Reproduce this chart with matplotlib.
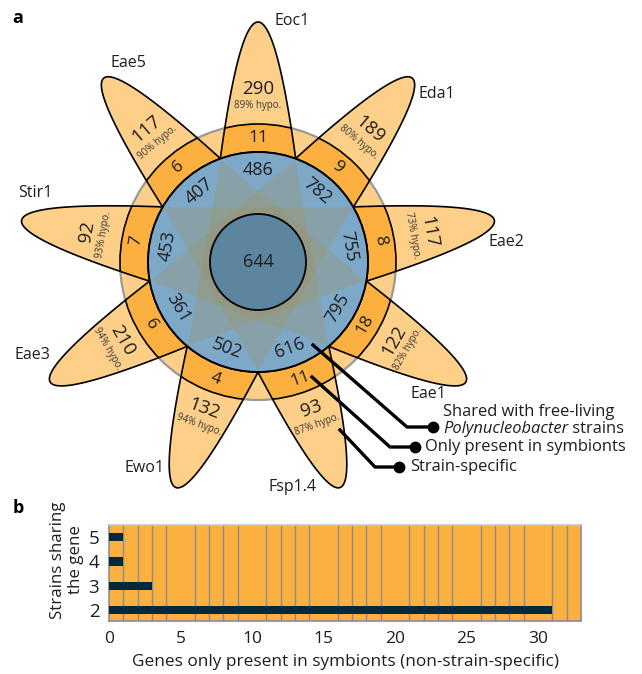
import numpy as np
import matplotlib
matplotlib.use("Agg")
import matplotlib.pyplot as plt
from matplotlib.patches import Circle, Polygon, Wedge

plt.rcParams['font.family'] = ['Open Sans', 'DejaVu Sans']

# ---------------- data ----------------
strains = ["Eoc1", "Eda1", "Eae2", "Eae1", "Fsp1.4", "Ewo1", "Eae3", "Stir1", "Eae5"]
strain_specific = [290, 189, 117, 122, 93, 132, 210, 92, 117]
hypothetical_pct = [89, 80, 73, 82, 87, 94, 94, 93, 90]
symbiont_only = [11, 9, 8, 18, 11, 4, 6, 7, 6]
shared_free_living = [486, 782, 755, 795, 616, 502, 361, 453, 407]
core_genes = 644

strains_sharing = [2, 3, 4, 5]
genes_non_specific = [31, 3, 1, 1]

# ---------------- styling / layout ----------------
W, H = 642, 674
CX, CY = 258, 412           # flower centre (pixel units, y up)
R_TIP = 240                 # petal tip distance
K_PAR = 10.4                # petal parabola width factor
R_BLUE = 110
R_BAND = 138
R_CORE = 48

C_PETAL = '#fdcf88'
C_BAND = '#fbb040'
C_BLUE = '#7ea8c7'
C_STAR = '#a09262'
C_CORE = '#5c86a0'
C_TEXT = '#1e1e1e'
C_BAR = '#02283d'

angles = [90 - 40 * i for i in range(len(strains))]

# label anchors for strain names (left edge, vertical centre), y measured from top
name_pos = {"Eoc1": (274, 21), "Eda1": (419, 94), "Eae2": (488, 242),
            "Eae1": (411, 394), "Fsp1.4": (268, 487), "Ewo1": (125, 468),
            "Eae3": (15, 355), "Stir1": (18, 193), "Eae5": (110, 63)}


def up(y):
    return H - y


def petal_xy(theta):
    t = np.deg2rad(theta)
    u = np.array([np.cos(t), np.sin(t)])
    v = np.array([-np.sin(t), np.cos(t)])
    s = np.linspace(0, 1, 120) ** 2 * 150
    d = R_TIP - s
    w = np.sqrt(K_PAR * s)
    right = np.column_stack([CX + d * u[0] + w * v[0], CY + d * u[1] + w * v[1]])
    left = np.column_stack([CX + d * u[0] - w * v[0], CY + d * u[1] - w * v[1]])
    return np.vstack([right, left[::-1][:-1]])


def text_rot(theta):
    rot = (theta - 90 + 180) % 360 - 180
    if rot > 90:
        rot -= 180
    elif rot < -90:
        rot += 180
    return rot


def polar(theta, r):
    t = np.deg2rad(theta)
    return CX + r * np.cos(t), CY + r * np.sin(t)


fig = plt.figure(figsize=(W / 100, H / 100), dpi=100)
ax = fig.add_axes([0, 0, 1, 1])
ax.set_xlim(0, W)
ax.set_ylim(0, H)
ax.axis('off')

# background disc
ax.add_patch(Circle((CX, CY), R_BAND, fc=C_PETAL, ec='#9a9a9a', lw=1.6, zorder=1))

# petals with their orange band segment
for th in angles:
    xy = petal_xy(th)
    fill = Polygon(xy, closed=True, fc=C_PETAL, ec='none', zorder=2)
    ax.add_patch(fill)
    band = Wedge((CX, CY), R_BAND, 0, 360, width=R_BAND - R_BLUE,
                 fc=C_BAND, ec='black', lw=1.2, zorder=3)
    ax.add_patch(band)
    band.set_clip_path(fill)
    ax.add_patch(Polygon(xy, closed=True, fill=False, ec='black', lw=1.2, zorder=4))

# shared ring and star overlay
ax.add_patch(Circle((CX, CY), R_BLUE, fc=C_BLUE, ec='none', zorder=5))
for k in range(3):
    verts = [polar(110 - 40 * k - 120 * j, R_BLUE - 1) for j in range(3)]
    ax.add_patch(Polygon(verts, closed=True, fc=C_STAR, ec='none', alpha=0.3, zorder=6))
ax.add_patch(Circle((CX, CY), R_BLUE, fill=False, ec='black', lw=1.4, zorder=7))
ax.add_patch(Circle((CX, CY), R_CORE, fc=C_CORE, ec='black', lw=1.3, zorder=7))
ax.text(CX, CY, str(core_genes), ha='center', va='center', fontsize=13,
        color=C_TEXT, zorder=8)

for th, name, n_spec, pct, n_sym, n_shared in zip(
        angles, strains, strain_specific, hypothetical_pct, symbiont_only, shared_free_living):
    rot = text_rot(th)
    ur = np.deg2rad(rot)
    upv = np.array([-np.sin(ur), np.cos(ur)])
    bx, by = polar(th, 165)
    ax.text(bx + 8.5 * upv[0], by + 8.5 * upv[1], str(n_spec), rotation=rot,
            rotation_mode='anchor', ha='center', va='center', fontsize=13.5,
            color=C_TEXT, zorder=8)
    ax.text(bx - 8.5 * upv[0], by - 8.5 * upv[1], f"{pct}% hypo.", rotation=rot,
            rotation_mode='anchor', ha='center', va='center', fontsize=7,
            color='#3a3a3a', zorder=8)
    x2, y2 = polar(th, 124)
    ax.text(x2, y2, str(n_sym), rotation=rot, rotation_mode='anchor',
            ha='center', va='center', fontsize=12.5, color=C_TEXT, zorder=8)
    x3, y3 = polar(th, 92)
    ax.text(x3, y3, str(n_shared), rotation=rot, rotation_mode='anchor',
            ha='center', va='center', fontsize=13, color=C_TEXT, zorder=8)
    nx, ny = name_pos[name]
    ax.text(nx, up(ny), name, ha='left', va='center', fontsize=11.5,
            color=C_TEXT, zorder=8)

# callout lines
callouts = [[(313, 345), (407, 427), (433, 427)],
            [(312, 377), (390, 447), (415, 447)],
            [(340, 430), (375, 467), (399, 467)]]
for pts in callouts:
    xs = [p[0] for p in pts]
    ys = [up(p[1]) for p in pts]
    ax.plot(xs, ys, color='black', lw=2.4, solid_joinstyle='miter', zorder=9)
    ax.plot(xs[-1], ys[-1], 'o', color='black', ms=7.5, zorder=9)

LEG_FS = 11.9
ax.text(443, up(412), "Shared with free-living", ha='left', va='center',
        fontsize=LEG_FS, color=C_TEXT)
t_it = ax.text(443, up(429), "Polynucleobacter", ha='left', va='center',
               fontsize=LEG_FS, style='italic', color=C_TEXT)
ax.annotate(" strains", xy=(1, 0.5), xycoords=t_it, ha='left', va='center',
            fontsize=LEG_FS, color=C_TEXT)
ax.text(425, up(447), "Only present in symbionts", ha='left', va='center',
        fontsize=LEG_FS, color=C_TEXT)
ax.text(410, up(467), "Strain-specific", ha='left', va='center',
        fontsize=LEG_FS, color=C_TEXT)

ax.text(18, up(18), "a", ha='center', va='center', fontsize=13, fontweight='bold')
ax.text(18, up(508), "b", ha='center', va='center', fontsize=13, fontweight='bold')

# ---------------- panel b ----------------
axb = fig.add_axes([109 / W, (H - 621) / H, 472 / W, 96 / H])
axb.set_facecolor(C_BAND)
axb.barh(strains_sharing, genes_non_specific, height=0.34, color=C_BAR, zorder=3)
axb.set_xlim(0, 33)
axb.set_ylim(1.55, 5.5)
axb.set_xticks(range(0, 31, 5))
axb.set_xticks(range(0, 34), minor=True)
axb.set_yticks(strains_sharing)
axb.grid(which='minor', axis='x', color='#8c8c8c', lw=1.0, zorder=1)
axb.set_axisbelow(True)
axb.tick_params(which='both', length=0)
axb.tick_params(axis='x', pad=7, labelsize=12.5, colors=C_TEXT)
axb.tick_params(axis='y', pad=7, labelsize=13.5, colors=C_TEXT)
for side in ['left', 'bottom', 'right']:
    axb.spines[side].set_color('#8c8c8c')
    axb.spines[side].set_linewidth(1.2)
axb.spines['top'].set_color('#c8c8c8')
axb.spines['top'].set_linewidth(1.2)

fig.text(345 / W, 1 - 662 / H, "Genes only present in symbionts (non-strain-specific)",
         ha='center', va='center', fontsize=12.4, color=C_TEXT)
fig.text(67 / W, 1 - 560 / H, "Strains sharing\nthe gene", rotation=90,
         ha='center', va='center', multialignment='center', fontsize=12.2,
         color=C_TEXT, linespacing=1.15)

fig.savefig("out.png", dpi=100)
